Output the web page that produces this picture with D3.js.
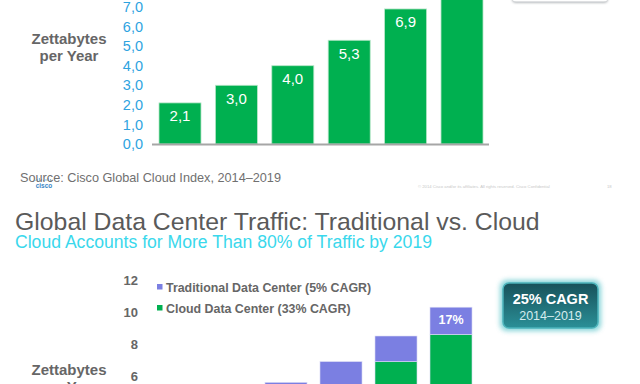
<!DOCTYPE html>
<html><head><meta charset="utf-8">
<script src="https://cdn.jsdelivr.net/npm/d3@7/dist/d3.min.js"></script>
<style>
html,body{margin:0;padding:0;background:#fff;}
svg{display:block;font-family:"Liberation Sans",Arial,sans-serif;}
</style></head>
<body>
<script>
// ---- data ----
const years = ["2014","2015","2016","2017","2018","2019"];
const cloudTop = [2.1, 3.0, 4.0, 5.3, 6.9, 8.6];
const topTicks = [0,1,2,3,4,5,6,7];
const cloudBottom = [2.1, 3.0, 4.0, 5.3, 6.9, 8.6];
const traditionalBottom = [1.3, 1.3, 1.6, 1.6, 1.6, 1.7];
const bottomTicks = [6, 8, 10, 12];
const legendLabels = ["Traditional Data Center (5% CAGR)", "Cloud Data Center (33% CAGR)"];
const pctLabel = ["", "", "", "", "", "17%"];

const W = 640, H = 384;
const GREEN = "#00b050", PURPLE = "#7b7fe2", GRAY = "#666666";
const svg = d3.select("body").append("svg").attr("width", W).attr("height", H);
const defs = svg.append("defs");
const grad = defs.append("linearGradient").attr("id","boxg").attr("x1",0).attr("y1",0).attr("x2",0).attr("y2",1);
grad.append("stop").attr("offset","0%").attr("stop-color","#17515a");
grad.append("stop").attr("offset","100%").attr("stop-color","#2b8f97");
const glow = defs.append("filter").attr("id","glow").attr("x","-20%").attr("y","-30%").attr("width","140%").attr("height","160%");
glow.append("feGaussianBlur").attr("stdDeviation",2.5);
const shadow = defs.append("filter").attr("id","sh").attr("x","-20%").attr("y","-50%").attr("width","140%").attr("height","200%");
shadow.append("feGaussianBlur").attr("stdDeviation",1.2);

// ================= TOP SLIDE =================
const xTop = d3.scaleBand().domain(years).range([152, 490]).paddingInner(0.255).paddingOuter(0.124);
const yTop = d3.scaleLinear().domain([0, 7]).range([144, 7]);

// partial box at top right
svg.append("rect").attr("x", 512).attr("y", -40).attr("width", 96).attr("height", 43)
  .attr("rx", 4).attr("fill", "#b8bcbf").attr("filter","url(#sh)");
svg.append("rect").attr("x", 512).attr("y", -40).attr("width", 96).attr("height", 41.5)
  .attr("rx", 4).attr("fill", "#ffffff");

const gTopAxis = svg.append("g").attr("transform", "translate(143,0)")
  .call(d3.axisLeft(yTop).tickValues(topTicks).tickSize(0).tickPadding(0)
    .tickFormat(d => d3.format(".1f")(d).replace(".", ",")));
gTopAxis.select(".domain").remove();
gTopAxis.selectAll("text").attr("fill", "#2ea3df").attr("font-size", 14.5)
  .attr("font-family", "Liberation Sans, Arial, sans-serif");

svg.append("g").selectAll("rect").data(cloudTop).join("rect")
  .attr("x", (d, i) => xTop(years[i])).attr("width", xTop.bandwidth())
  .attr("y", d => yTop(d)).attr("height", d => yTop(0) - yTop(d))
  .attr("fill", GREEN).attr("stroke", "#b9e6c9").attr("stroke-width", 0.8);

svg.append("line").attr("x1", 152).attr("x2", 489).attr("y1", yTop(0) + 0.5).attr("y2", yTop(0) + 0.5)
  .attr("stroke", "#a6a6a6").attr("stroke-width", 2);

svg.append("g").selectAll("text").data(cloudTop).join("text")
  .attr("x", (d, i) => xTop(years[i]) + xTop.bandwidth() / 2)
  .attr("y", d => yTop(d) + 13).attr("dy", "0.35em")
  .attr("text-anchor", "middle").attr("fill", "#fff").attr("font-size", 15)
  .text(d => d3.format(".1f")(d).replace(".", ","));

svg.append("text").attr("x", 69).attr("y", 39).attr("dy", "0.35em").attr("text-anchor", "middle")
  .attr("fill", GRAY).attr("font-size", 15).attr("font-weight", "bold").text("Zettabytes");
svg.append("text").attr("x", 69).attr("y", 56).attr("dy", "0.35em").attr("text-anchor", "middle")
  .attr("fill", GRAY).attr("font-size", 15).attr("font-weight", "bold").text("per Year");

// cisco logo (small)
const logo = svg.append("g");
logo.selectAll("line").data([0,1,2,3,4,5,6,7,8]).join("line")
  .attr("x1", d => 35 + d * 2.2).attr("x2", d => 35 + d * 2.2)
  .attr("y1", d => 181 - [1,2,3,2,1,2,3,2,1][d]).attr("y2", 181)
  .attr("stroke", "#6aaed8").attr("stroke-width", 0.9);
logo.append("text").attr("x", 44).attr("y", 188).attr("text-anchor", "middle")
  .attr("fill", "#3a86c6").attr("font-size", 6.5).attr("font-weight", "bold").text("cisco");

svg.append("text").attr("x", 20).attr("y", 177.5).attr("dy", "0.35em")
  .attr("fill", "#707070").attr("font-size", 12.7).text("Source: Cisco Global Cloud Index, 2014–2019");

svg.append("text").attr("x", 418).attr("y", 187).attr("dy", "0.35em")
  .attr("fill", "#c8c8c8").attr("font-size", 4.2)
  .text("© 2014  Cisco and/or its affiliates. All rights reserved.   Cisco Confidential");
svg.append("text").attr("x", 607).attr("y", 187).attr("dy", "0.35em")
  .attr("fill", "#c8c8c8").attr("font-size", 4.2).text("18");

// ================= BOTTOM SLIDE =================
svg.append("text").attr("x", 15).attr("y", 221).attr("dy", "0.35em")
  .attr("fill", "#5a5a5a").attr("font-size", 24.8).text("Global Data Center Traffic: Traditional vs. Cloud");
svg.append("text").attr("x", 15).attr("y", 242).attr("dy", "0.35em")
  .attr("fill", "#3ad8ec").attr("font-size", 17.6).text("Cloud Accounts for More Than 80% of Traffic by 2019");

const xBot = d3.scaleBand().domain(years).range([148, 479]).paddingInner(0.236).paddingOuter(0.127);
const yBot = d3.scaleLinear().domain([6, 12]).range([376, 280]);

const gBotAxis = svg.append("g").attr("transform", "translate(138,0)")
  .call(d3.axisLeft(yBot).tickValues(bottomTicks).tickSize(0).tickPadding(0).tickFormat(d3.format("d")));
gBotAxis.select(".domain").remove();
gBotAxis.selectAll("text").attr("fill", GRAY).attr("font-size", 13).attr("font-weight", "bold")
  .attr("font-family", "Liberation Sans, Arial, sans-serif");

const stackData = years.map((y, i) => ({ year: y, cloud: cloudBottom[i], traditional: traditionalBottom[i] }));
const series = d3.stack().keys(["cloud", "traditional"])(stackData);
const colors = { cloud: GREEN, traditional: PURPLE };
svg.append("g").selectAll("g").data(series).join("g").attr("fill", d => colors[d.key])
  .selectAll("rect").data(d => d).join("rect")
  .attr("x", d => xBot(d.data.year)).attr("width", xBot.bandwidth())
  .attr("y", d => yBot(d[1])).attr("height", d => yBot(d[0]) - yBot(d[1]))
  .attr("stroke", "#dcdcf5").attr("stroke-width", 0.6);

svg.append("g").selectAll("text").data(stackData).join("text")
  .attr("x", d => xBot(d.year) + xBot.bandwidth() / 2)
  .attr("y", d => yBot(d.cloud + d.traditional) + 12).attr("dy", "0.35em")
  .attr("text-anchor", "middle").attr("fill", "#fff").attr("font-size", 12.5).attr("font-weight", "bold")
  .text((d, i) => pctLabel[i]);

// legend
const leg = svg.append("g");
[PURPLE, GREEN].forEach((c, i) => {
  leg.append("rect").attr("x", 157).attr("y", 284 + i * 21).attr("width", 5.5).attr("height", 5.5).attr("fill", c);
  leg.append("text").attr("x", 166).attr("y", 287.5 + i * 21).attr("dy", "0.35em")
    .attr("fill", GRAY).attr("font-size", 12.4).attr("font-weight", "bold").text(legendLabels[i]);
});

svg.append("text").attr("x", 69).attr("y", 370).attr("dy", "0.35em").attr("text-anchor", "middle")
  .attr("fill", GRAY).attr("font-size", 15).attr("font-weight", "bold").text("Zettabytes");
svg.append("text").attr("x", 69).attr("y", 387).attr("dy", "0.35em").attr("text-anchor", "middle")
  .attr("fill", GRAY).attr("font-size", 15).attr("font-weight", "bold").text("per Year");

// CAGR box
svg.append("rect").attr("x", 500).attr("y", 280).attr("width", 101).attr("height", 51).attr("rx", 7)
  .attr("fill", "#5fc6cc").attr("opacity", 0.75).attr("filter", "url(#glow)");
svg.append("rect").attr("x", 503).attr("y", 283).attr("width", 95).attr("height", 45).attr("rx", 6)
  .attr("fill", "url(#boxg)").attr("stroke", "#4bb3ba").attr("stroke-width", 1.5);
svg.append("text").attr("x", 550.5).attr("y", 298.5).attr("dy", "0.35em").attr("text-anchor", "middle")
  .attr("fill", "#ffffff").attr("font-size", 14.5).attr("font-weight", "bold").text("25% CAGR");
svg.append("text").attr("x", 550.5).attr("y", 316).attr("dy", "0.35em").attr("text-anchor", "middle")
  .attr("fill", "#d5ecee").attr("font-size", 12.5).text("2014–2019");
</script>
</body></html>
